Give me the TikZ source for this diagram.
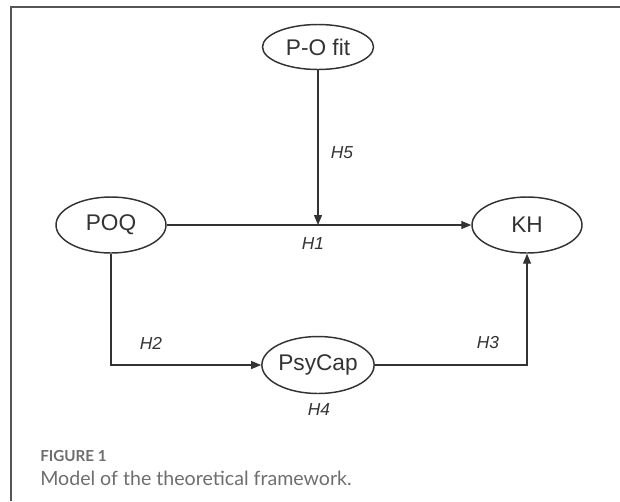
\documentclass[tikz,border=0pt]{standalone}
\usepackage{fontspec}
\setmainfont{Liberation Sans}
\newfontfamily\capfont{Lato}
\usetikzlibrary{arrows.meta,shapes.geometric}
\definecolor{ink}{HTML}{333333}
\definecolor{capgray}{HTML}{6E6E6E}
\definecolor{framegray}{HTML}{555555}
\begin{document}
\begin{tikzpicture}[x=0.75pt,y=-0.75pt,
  var/.style={draw=ink,line width=1.1pt,ellipse,inner sep=0pt,text=ink,font=\fontsize{17}{19}\selectfont},
  conn/.style={draw=ink,line width=0.9pt,-{Triangle[length=7.5pt,width=6pt]}},
  hyp/.style={text=ink,font=\fontsize{13}{15}\selectfont\itshape,inner sep=0pt}]
\useasboundingbox (0,0) rectangle (620,501);
\draw[framegray,line width=1.1pt] (11,501) -- (11,7) -- (620,7);
\node[var,minimum width=83.25pt,minimum height=33.75pt] (pof) at (318,47) {P-O fit};
\node[var,minimum width=82.5pt,minimum height=42pt] (poq) at (111,225) {POQ};
\node[var,minimum width=82.5pt,minimum height=42pt] (kh) at (527,225) {KH};
\node[var,minimum width=81pt,minimum height=42.75pt] (psy) at (318,365) {PsyCap};
\coordinate (j) at (318,225);
\draw[conn] (poq.east) -- (kh.west);
\draw[conn] (pof.south) -- (j);
\draw[conn] (poq.south) |- (psy.west);
\draw[conn] (psy.east) -| (kh.south);
\node[hyp] (h5) at (342,153) {H5};
\node[hyp] (h1) at (313,244) {H1};
\node[hyp] (h2) at (151,343) {H2};
\node[hyp] (h3) at (488,343) {H3};
\node[hyp] (h4) at (319,410) {H4};
\node[anchor=west,text=capgray,inner sep=0pt,font=\capfont\bfseries\fontsize{11.4}{13}\selectfont] (fig) at (40,456) {FIGURE 1};
\node[anchor=west,text=capgray,inner sep=0pt,font=\capfont\fontsize{14.7}{16}\selectfont] (cap) at (40,478) {Model of the theoretical framework.};
\end{tikzpicture}
\end{document}
